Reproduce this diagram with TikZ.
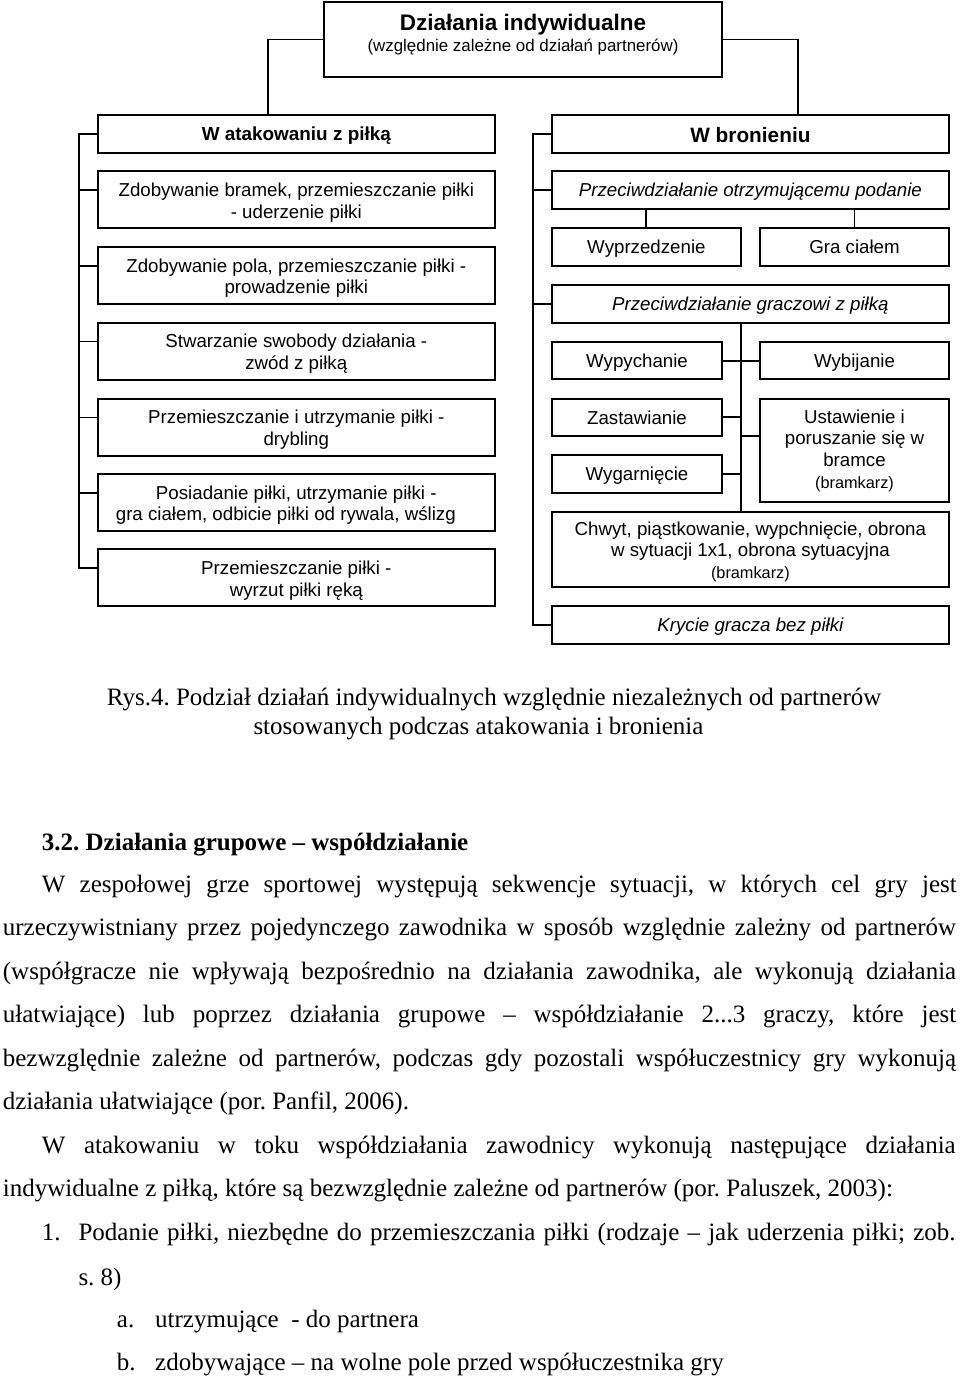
\documentclass[tikz,border=0pt]{standalone}
\usepackage{fontspec}
\setmainfont{Liberation Serif}
\newfontfamily\arial{Liberation Sans}
\usetikzlibrary{calc}
\frenchspacing
\begin{document}
\begin{tikzpicture}[x=1bp,y=-1bp,
  box/.style={draw=black, line width=1.8bp, inner sep=0pt, outer sep=0pt, anchor=north west},
  conn/.style={draw=black, line width=1.8bp},
  sans/.style={font=\arial\fontsize{18.7bp}{21.6bp}\selectfont, inner sep=0pt, align=center, anchor=base},
  sansit/.style={sans, font=\arial\itshape\fontsize{18.7bp}{21.6bp}\selectfont},
  sansbf/.style={sans, font=\arial\bfseries\fontsize{18.9bp}{21.6bp}\selectfont},
  para/.style={font=\frenchspacing\fontsize{25bp}{30bp}\selectfont, inner sep=0pt, anchor=base west},
  parabf/.style={para, font=\frenchspacing\bfseries\fontsize{25bp}{30bp}\selectfont}]
\fill[white] (0,0) rectangle (960,1379);
\useasboundingbox (0,0) rectangle (960,1379);

% ---------- boxes ----------
\node[box, minimum width=398bp, minimum height=75bp] (top) at (324,2) {};
\node[box, minimum width=397.3bp, minimum height=38bp] (att) at (97.7,114.7) {};
\node[box, minimum width=397.3bp, minimum height=57bp] (a1) at (97.7,171.3) {};
\node[box, minimum width=397.3bp, minimum height=57bp] (a2) at (97.7,247) {};
\node[box, minimum width=397.3bp, minimum height=57bp] (a3) at (97.7,322.7) {};
\node[box, minimum width=397.3bp, minimum height=57bp] (a4) at (97.7,398.7) {};
\node[box, minimum width=397.3bp, minimum height=57bp] (a5) at (97.7,474) {};
\node[box, minimum width=397.3bp, minimum height=57bp] (a6) at (97.7,549.3) {};

\node[box, minimum width=397.3bp, minimum height=38bp] (bron) at (551.7,114.7) {};
\node[box, minimum width=397.3bp, minimum height=38bp] (po) at (551.7,171.3) {};
\node[box, minimum width=189.3bp, minimum height=37.7bp] (wyp) at (551.7,228.3) {};
\node[box, minimum width=189bp, minimum height=37.7bp] (gra) at (760,228.3) {};
\node[box, minimum width=397.3bp, minimum height=37.7bp] (pg) at (551.7,285) {};
\node[box, minimum width=170.6bp, minimum height=37.3bp] (wypy) at (551.7,342) {};
\node[box, minimum width=189bp, minimum height=37.3bp] (wybi) at (760,342) {};
\node[box, minimum width=170.6bp, minimum height=37.3bp] (zast) at (551.7,398.7) {};
\node[box, minimum width=189bp, minimum height=103.6bp] (ustaw) at (760,398.7) {};
\node[box, minimum width=170.6bp, minimum height=37.4bp] (wyga) at (551.7,455.3) {};
\node[box, minimum width=397.3bp, minimum height=75.6bp] (chwyt) at (551.7,511.7) {};
\node[box, minimum width=397.3bp, minimum height=38bp] (krycie) at (551.7,606) {};

% ---------- connectors ----------
\coordinate (tl) at (268,114.7);
\coordinate (tr) at (797.7,114.7);
\draw[conn] (top.west) -| (tl);
\draw[conn] (top.east) -| (tr);

\draw[conn] (att.west) -| ($(a6.north west)+(-18.4,18.9)$) -- ($(a6.north west)+(0,18.9)$);
\foreach \b in {a1,a2,a3,a4,a5}
  \draw[conn] ($(\b.north west)+(0,18.7)$) -- ++(-18.4,0);

\draw[conn] (bron.west) -| ($(krycie.west)+(-18.7,0)$) -- (krycie.west);
\draw[conn] (po.west) -- ++(-18.7,0);
\draw[conn] (pg.west) -- ++(-18.7,0);

\draw[conn] (po.south -| wyp.north) -- (wyp.north);
\draw[conn] (po.south -| gra.north) -- (gra.north);

\draw[conn] (pg.south -| wyp.east) -- (chwyt.north -| wyp.east);
\draw[conn] (wypy.east) -- (wybi.west);
\draw[conn] (zast.east) -- (zast.east -| wyp.east);
\draw[conn] ($(ustaw.north west)+(0,37.3)$) coordinate (ut) -- (ut -| wyp.east);
\draw[conn] (wyga.east) -- (wyga.east -| wyp.east);

% ---------- box texts (anchor = baseline of last line) ----------
\node[sansbf, font=\arial\bfseries\fontsize{22.5bp}{26bp}\selectfont] (top-t1) at (523,30.7) {Działania indywidualne};
\node[sans, font=\arial\fontsize{16.9bp}{20bp}\selectfont] (top-t2) at (523,51.7) {(względnie zależne od działań partnerów)};

\node[sansbf] (att-t) at (296.3,140.6) {W atakowaniu z piłką};
\node[sans] (a1-t) at (296.3,218.2) {Zdobywanie bramek, przemieszczanie piłki\\- uderzenie piłki};
\node[sans] (a2-t) at (296.3,293.8) {Zdobywanie pola, przemieszczanie piłki -\\prowadzenie piłki};
\node[sans] (a3-t) at (296.3,369.5) {Stwarzanie swobody działania -\\zwód z piłką};
\node[sans] (a4-t) at (296.3,445.5) {Przemieszczanie i utrzymanie piłki -\\drybling};
\node[sans] (a5-t) at (296.3,520.8) {Posiadanie piłki, utrzymanie piłki -\\gra ciałem, odbicie piłki od rywala, wślizg\hspace*{21bp}};
\node[sans] (a6-t) at (296.3,596.1) {Przemieszczanie piłki -\\wyrzut piłki ręką};

\node[sansbf, font=\arial\bfseries\fontsize{20.8bp}{24bp}\selectfont] (bron-t) at (750.4,142.5) {W bronieniu};
\node[sansit] (po-t) at (750.4,197) {Przeciwdziałanie otrzymującemu podanie};
\node[sans] (wyp-t) at (646.4,253.9) {Wyprzedzenie};
\node[sans] (gra-t) at (854.5,253.9) {Gra ciałem};
\node[sansit] (pg-t) at (750.4,310.6) {Przeciwdziałanie graczowi z piłką};
\node[sans] (wypy-t) at (637,367.4) {Wypychanie};
\node[sans] (wybi-t) at (854.5,367.4) {Wybijanie};
\node[sans] (zast-t) at (637,424.1) {Zastawianie};
\node[sans] (ustaw-t) at (854.5,488) {Ustawienie i\\poruszanie się w\\bramce\\{\fontsize{16.3bp}{21bp}\selectfont (bramkarz)}};
\node[sans] (wyga-t) at (637,480.7) {Wygarnięcie};
\node[sans] (chwyt-t) at (750.4,578.5) {Chwyt, piąstkowanie, wypchnięcie, obrona\\w sytuacji 1x1, obrona sytuacyjna\\{\fontsize{16.3bp}{20bp}\selectfont (bramkarz)}};
\node[sansit] (krycie-t) at (750.4,631.7) {Krycie gracza bez piłki};

% ---------- text below ----------
\node[para] (cap1) at (106.7,705) {Rys.4. Podział działań indywidualnych względnie niezależnych od partnerów};
\node[para] (cap2) at (253.3,734) {stosowanych podczas atakowania i bronienia};

\node[parabf] (head) at (41.7,850) {3.2. Działania grupowe – współdziałanie};

\node[para] (p1) at (41.7,892) {\makebox[914.8bp][s]{W zespołowej grze sportowej występują sekwencje sytuacji, w których cel gry jest}};
\node[para] (p2) at (2.7,935.5) {\makebox[953.3bp][s]{urzeczywistniany przez pojedynczego zawodnika w sposób względnie zależny od partnerów}};
\node[para] (p3) at (2.7,979) {\makebox[953.3bp][s]{(współgracze nie wpływają bezpośrednio na działania zawodnika, ale wykonują działania}};
\node[para] (p4) at (2.7,1022.5) {\makebox[953.3bp][s]{ułatwiające) lub poprzez działania grupowe – współdziałanie 2...3 graczy, które jest}};
\node[para] (p5) at (2.7,1066) {\makebox[953.3bp][s]{bezwzględnie zależne od partnerów, podczas gdy pozostali współuczestnicy gry wykonują}};
\node[para] (p6) at (2.7,1109.5) {działania ułatwiające (por. Panfil, 2006).};

\node[para] (q1) at (41.7,1153) {\makebox[913.8bp][s]{W atakowaniu w toku współdziałania zawodnicy wykonują następujące działania}};
\node[para] (q2) at (2.7,1196.5) {indywidualne z piłką, które są bezwzględnie zależne od partnerów (por. Paluszek, 2003):};

\node[para] (n1) at (41.7,1240) {1.};
\node[para] (n1t) at (78.3,1240) {\makebox[877bp][s]{Podanie piłki, niezbędne do przemieszczania piłki (rodzaje – jak uderzenia piłki; zob.}};
\node[para] (n1u) at (78.3,1285) {s. 8)};
\node[para] (na) at (116.7,1327) {a.};
\node[para] (nat) at (155,1327) {utrzymujące \ - do partnera};
\node[para] (nb) at (116.7,1370) {b.};
\node[para] (nbt) at (155,1370) {zdobywające – na wolne pole przed współuczestnika gry};
\end{tikzpicture}
\end{document}
